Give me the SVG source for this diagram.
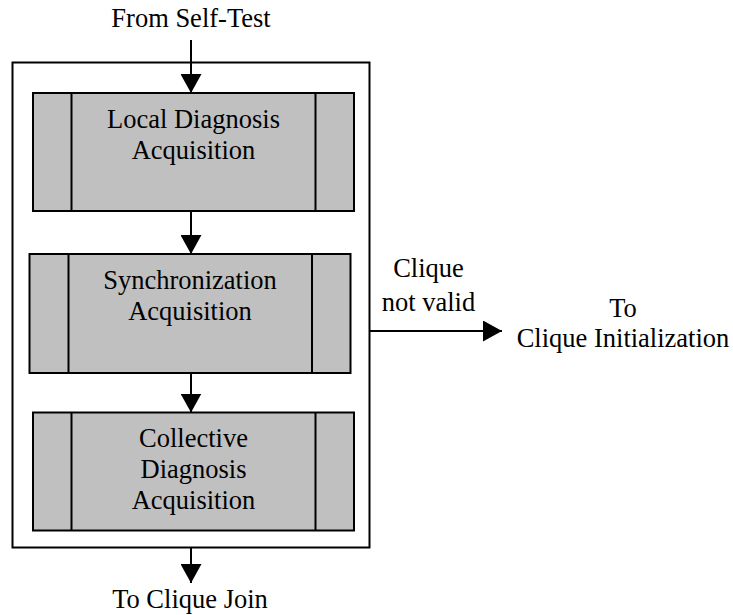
<svg xmlns="http://www.w3.org/2000/svg" width="733" height="615" viewBox="0 0 733 615">
<style>
text{font-family:"Liberation Serif","Times New Roman",serif;font-size:26.5px;fill:#000;text-anchor:middle}
.box{fill:#c0c0c0;stroke:#000;stroke-width:2}
.div{stroke:#000;stroke-width:2}
.frame{fill:none;stroke:#000;stroke-width:2}
.conn{stroke:#000;stroke-width:2;fill:none;marker-end:url(#ah)}
</style>
<defs>
<marker id="ah" markerUnits="userSpaceOnUse" markerWidth="19" markerHeight="21" viewBox="0 0 19 21" refX="19" refY="10.5" orient="auto">
<path d="M0,0 L19,10.5 L0,21 Z" fill="#000"/>
</marker>
</defs>
<rect id="frame" class="frame" x="12.5" y="62.5" width="357" height="485"/>
<g id="n1">
<rect class="box" x="33" y="93" width="321" height="118"/>
<line class="div" x1="71.5" y1="93" x2="71.5" y2="211"/>
<line class="div" x1="315.5" y1="93" x2="315.5" y2="211"/>
<text x="193.5" y="128">Local Diagnosis</text>
<text x="193.5" y="158.5">Acquisition</text>
</g>
<g id="n2">
<rect class="box" x="29.5" y="254" width="321" height="119"/>
<line class="div" x1="68.5" y1="254" x2="68.5" y2="373"/>
<line class="div" x1="312" y1="254" x2="312" y2="373"/>
<text x="190" y="289">Synchronization</text>
<text x="190" y="319.5">Acquisition</text>
</g>
<g id="n3">
<rect class="box" x="33" y="412.5" width="321" height="118"/>
<line class="div" x1="71.5" y1="412.5" x2="71.5" y2="530.5"/>
<line class="div" x1="315.5" y1="412.5" x2="315.5" y2="530.5"/>
<text x="193.5" y="447">Collective</text>
<text x="193.5" y="477.5">Diagnosis</text>
<text x="193.5" y="508.5">Acquisition</text>
</g>
<g id="connectors">
<line class="conn" x1="191" y1="40" x2="191" y2="93"/>
<line class="conn" x1="191" y1="211" x2="191" y2="254"/>
<line class="conn" x1="191" y1="373" x2="191" y2="412.5"/>
<line class="conn" x1="191" y1="548" x2="191" y2="583"/>
<line class="conn" x1="370" y1="331" x2="502" y2="331"/>
</g>
<g id="labels">
<text x="191" y="27">From Self-Test</text>
<text x="190" y="608">To Clique Join</text>
<text x="428.5" y="277">Clique</text>
<text x="428.5" y="311">not valid</text>
<text x="623" y="317">To</text>
<text x="623" y="347">Clique Initialization</text>
</g>
</svg>
